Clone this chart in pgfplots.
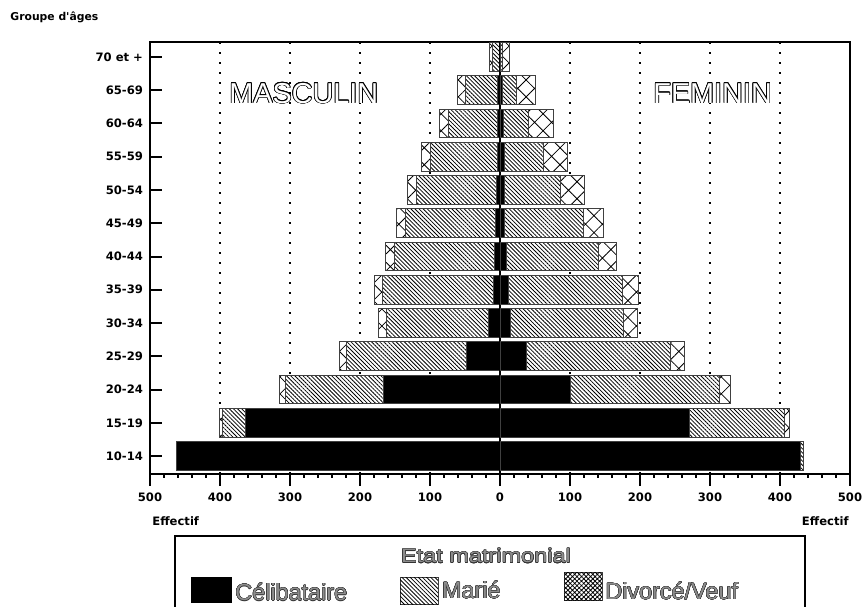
\documentclass[border=0pt]{standalone}
\usepackage{fontspec}
\setmainfont{Liberation Sans}
\newfontfamily\tickfont{DejaVu Sans}
\newfontfamily\titlefont{Liberation Sans}[FakeStretch=1.2]
\usepackage{pgfplots}
\pgfplotsset{compat=1.18}
\usepackage{pgfplotstable}
\usetikzlibrary{patterns.meta}
\usepackage{contour}
\contourlength{0.35pt}

% age groups: 0 = 10-14 ... 12 = 70 et +
\pgfplotstableread{
y cel mar div
0 462 0 0
1 363 34 3
2 166 141 8
3 48 172 10
4 16 146 11
5 10 158 11
6 8 143 12
7 6 129 13
8 5 115 12
9 3 96 13
10 3 71 12
11 3 47 11
12 1 10 4
}\masc

\pgfplotstableread{
y cel mar div
0 429 5 0
1 271 135 7
2 101 212 16
3 38 206 19
4 15 162 19
5 12 163 23
6 9 132 26
7 7 112 29
8 6 81 34
9 6 56 35
10 5 35 36
11 3 20 28
12 1 3 10
}\femi

\tikzset{
  cel/.style={fill=black, draw=black!75, line width=0.5pt},
  mar/.style={fill=white, draw=black!75, line width=0.5pt,
    postaction={pattern={Lines[angle=-45, distance=1.45pt, line width=0.4pt]}}},
  div/.style={fill=white, draw=black!75, line width=0.5pt,
    postaction={pattern={Hatch[angle=45, distance=6pt, line width=0.4pt]}}},
  tk/.style={font=\fontsize{5.8}{7}\tickfont\bfseries},
  leg/.style={anchor=base west, inner sep=0, font=\fontsize{11.7}{13}\selectfont},
}
\newcommand\hollow[1]{\contour{black}{\textcolor{white}{#1}}}
\newcommand\leghollow[1]{{\contourlength{0.2pt}\contour{black!80}{\textcolor{black!45}{#1}}}}

\pgfplotsset{
  pyr/.style={
    at={(0,0)}, anchor=south west, scale only axis,
    width=350pt, height=216pt,
    xmin=-500, xmax=500, ymin=-0.54, ymax=12.45,
    xbar stacked, bar width=0.87,
  },
}

\begin{document}
\begin{tikzpicture}
\useasboundingbox (-75pt,-66pt) rectangle (356.5pt,237pt);

\begin{axis}[pyr,
  xtick={-500,-400,...,500},
  xticklabels={500,400,300,200,100,0,100,200,300,400,500},
  minor x tick num=4,
  ytick={0,...,12},
  yticklabels={10-14,15-19,20-24,25-29,30-34,35-39,40-44,45-49,50-54,55-59,60-64,65-69,70 et +},
  xtick pos=bottom, ytick pos=left,
  xtick align=outside, ytick align=inside,
  major tick length=5.8pt, minor tick length=1.75pt,
  tick style={line width=1pt, black},
  axis line style={line width=1pt},
  xmajorgrids,
  grid style={black, line width=1pt, dash pattern=on 1pt off 4pt},
  tick label style={tk},
]
\addplot[cel] table[x expr=-\thisrow{cel}, y=y] {\masc};
\addplot[mar] table[x expr=-\thisrow{mar}, y=y] {\masc};
\addplot[div] table[x expr=-\thisrow{div}, y=y] {\masc};
\end{axis}

\begin{axis}[pyr, hide axis]
\addplot[cel] table[x=cel, y=y] {\femi};
\addplot[mar] table[x=mar, y=y] {\femi};
\addplot[div] table[x=div, y=y] {\femi};
\draw[line width=1.1pt] (axis cs:0,-0.54) -- (axis cs:0,12.45);
\end{axis}

% titles and labels
\node[tk, font=\fontsize{5.4}{6}\tickfont\bfseries, anchor=west, inner sep=0] at (-70pt,228.5pt) {Groupe d'âges};
\node[tk, anchor=west, inner sep=0] at (1pt,-23.5pt) {Effectif};
\node[tk, anchor=east, inner sep=0] at (349.5pt,-23.5pt) {Effectif};
\node[anchor=west, inner sep=0, font=\fontsize{14.4}{16}\selectfont] at (39.5pt,190.25pt) {\hollow{MASCULIN}};
\node[anchor=west, inner sep=0, font=\fontsize{14.4}{16}\selectfont] at (251.5pt,190.25pt) {\hollow{FEMININ}};

% legend
\draw[line width=0.6pt] (12.5pt,-70pt) rectangle (327.5pt,-31pt);
\node[inner sep=0, font=\fontsize{9.8}{11}\titlefont] at (168pt,-41pt) {\leghollow{Etat matrimonial}};
\fill[black] (20.35pt,-64.5pt) rectangle (40.85pt,-51.5pt);
\node[leg] at (42.5pt,-63.3pt) {\leghollow{Célibataire}};
\path[draw=black!75, line width=0.5pt, postaction={pattern={Lines[angle=-45, distance=1.45pt, line width=0.4pt]}}] (125pt,-65pt) rectangle (144pt,-51.5pt);
\node[leg] at (145.85pt,-62.2pt) {\leghollow{Marié}};
\path[draw=black!75, line width=0.5pt, postaction={pattern={Hatch[angle=45, distance=1.6pt, line width=0.4pt]}}] (207pt,-63.3pt) rectangle (226pt,-49.3pt);
\node[leg] at (227.5pt,-62.7pt) {\leghollow{Divorcé/Veuf}};
\end{tikzpicture}
\end{document}
